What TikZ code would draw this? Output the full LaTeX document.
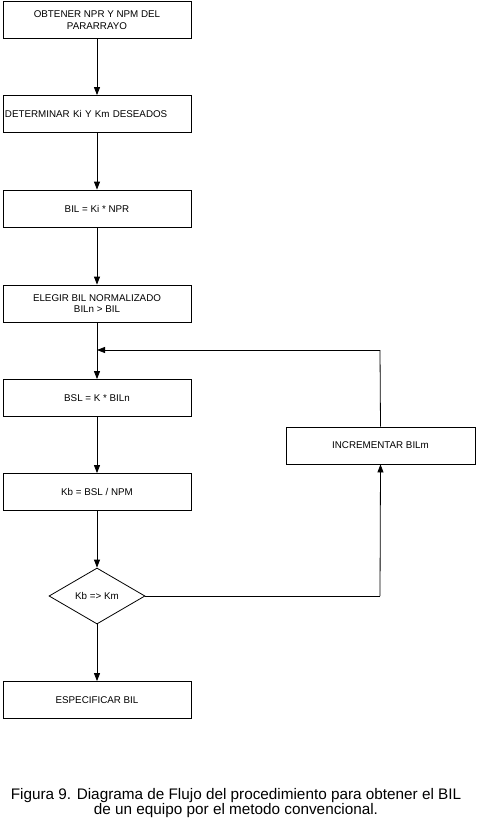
\documentclass[tikz,border=0pt]{standalone}
\usepackage{fontspec}
\setmainfont{Liberation Sans}
\usetikzlibrary{arrows.meta,shapes.geometric}
\begin{document}
\begin{tikzpicture}[x=1pt,y=-1pt,
  stepbox/.style={draw,line width=0.8pt,minimum width=188pt,minimum height=37pt,inner sep=0pt,align=center,font=\fontsize{9.8}{11.5}\selectfont},
  flow/.style={line width=0.8pt,-{Triangle[length=8pt,width=6pt]}},
  plain/.style={line width=0.8pt}]
\useasboundingbox (0,0) rectangle (477,827);
\node[stepbox] (a) at (97,20) {OBTENER NPR Y NPM DEL\\PARARRAYO};
\node[stepbox,align=left,text width=184pt] (b) at (97,114) {DETERMINAR Ki Y Km DESEADOS};
\node[stepbox] (c) at (97,208.5) {BIL = Ki * NPR};
\node[stepbox] (d) at (97,303.5) {ELEGIR BIL NORMALIZADO\\BILn > BIL};
\node[stepbox] (e) at (97,398) {BSL = K * BILn};
\node[stepbox] (f) at (97,492) {Kb = BSL / NPM};
\node[draw,line width=0.8pt,diamond,aspect=1.7,minimum width=96pt,minimum height=56pt,inner sep=0pt,font=\fontsize{9.8}{11.5}\selectfont] (g) at (97,596) {Kb => Km};
\node[stepbox] (h) at (97,700) {ESPECIFICAR BIL};
\node[stepbox,minimum width=189pt] (i) at (380.5,445.5) {INCREMENTAR BILm};
\coordinate (j) at (97,350);
\coordinate (k) at (380,350);
\coordinate (m) at (380,596);
\draw[flow] (a) -- (b);
\draw[flow] (b) -- (c);
\draw[flow] (c) -- (d);
\draw[flow] (d) -- (e);
\draw[flow] (e) -- (f);
\draw[flow] (f) -- (g);
\draw[flow] (g) -- (h);
\draw[plain] (g.east) -- (m);
\draw[flow] (m) -- (i.south);
\draw[plain] (i.north) -- (k);
\draw[flow] (k) -- (j);
\node[font=\fontsize{15.3}{15}\selectfont,align=center] (cap) at (236,803) {Figura 9. Diagrama de Flujo del procedimiento para obtener el BIL\\de un equipo por el metodo convencional.};
\end{tikzpicture}
\end{document}
